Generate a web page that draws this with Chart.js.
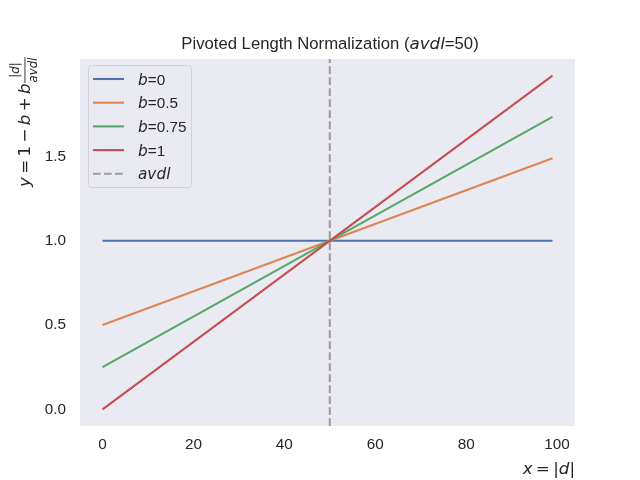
<!DOCTYPE html>
<html>
<head>
<meta charset="utf-8">
<title>Pivoted Length Normalization</title>
<script src="https://cdn.jsdelivr.net/npm/chart.js@4/dist/chart.umd.min.js"></script>
<style>
    body { margin: 0; background: #fff; }
    canvas { display: block; }
</style>
</head>
<body>
<canvas id="chart" width="640" height="480"></canvas>
<script>
// Chart data
const xValues = [0, 99];
const bValues = [0, 0.5, 0.75, 1];
const seriesB0 = [1.0, 1.0];
const seriesB05 = [0.5, 1.49];
const seriesB075 = [0.25, 1.735];
const seriesB1 = [0.0, 1.98];
const avdl = 50;
const xTicks = [0, 20, 40, 60, 80, 100];
const yTicks = [0.0, 0.5, 1.0, 1.5];
const xLimits = [-4.95, 103.95];
const yLimits = [-0.099, 2.079];

const colors = ['#4C72B0', '#DD8452', '#55A868', '#C44E52'];
const avdlColor = 'rgba(128,128,128,0.72)';
const textColor = '#262626';
const axesBg = '#EAEAF2';
const sansFont = "'Liberation Sans', Arial, sans-serif";
const mathFont = "'DejaVu Sans', sans-serif";
const thin = '\u2009';

function fontOf(p, size) {
    if (p.it) return `italic ${size}px ${mathFont}`;
    return `${size}px ${p.math ? mathFont : sansFont}`;
}

function partsWidth(ctx, parts, size) {
    let total = 0;
    parts.forEach(p => {
        ctx.font = fontOf(p, size);
        total += ctx.measureText(p.t).width;
    });
    return total;
}

// Draw a run of text pieces, some in math italic
function drawParts(ctx, parts, x, y, size, align) {
    const total = partsWidth(ctx, parts, size);
    let cx = align === 'center' ? x - total / 2 : align === 'right' ? x - total : x;
    ctx.textAlign = 'left';
    ctx.textBaseline = 'alphabetic';
    parts.forEach(p => {
        ctx.font = fontOf(p, size);
        ctx.fillText(p.t, cx, y);
        cx += ctx.measureText(p.t).width;
    });
    return total;
}

// Axes background + white canvas
const backgroundPlugin = {
    id: 'background',
    beforeDraw(chart) {
        const { ctx, chartArea: a } = chart;
        ctx.save();
        ctx.fillStyle = '#fff';
        ctx.fillRect(0, 0, chart.width, chart.height);
        ctx.fillStyle = axesBg;
        ctx.fillRect(a.left, a.top, a.right - a.left, a.bottom - a.top);
        ctx.restore();
    }
};

// Title, axis labels (with mathtext pieces) and the legend
const annotationsPlugin = {
    id: 'annotations',
    afterDraw(chart) {
        const { ctx, chartArea: a } = chart;
        ctx.save();
        ctx.fillStyle = textColor;

        // Title
        drawParts(ctx, [
            { t: 'Pivoted Length Normalization (' },
            { t: 'avdl', it: true },
            { t: '=50)' }
        ], 330, 49, 16.7, 'center');

        // x label, right aligned
        drawParts(ctx, [
            { t: 'x', it: true },
            { t: thin + '=' + thin + '|', math: true },
            { t: 'd', it: true },
            { t: '|', math: true }
        ], a.right, 474, 16.7, 'right');

        // y label, rotated, top aligned
        ctx.save();
        ctx.translate(29.5, 187);
        ctx.rotate(-Math.PI / 2);
        const mainW = drawParts(ctx, [
            { t: 'y', it: true },
            { t: thin + '=' + thin + '1' + thin + '\u2212' + thin, math: true },
            { t: 'b', it: true },
            { t: thin + '+' + thin, math: true },
            { t: 'b', it: true }
        ], 0, 0, 16.7, 'left');
        const num = [{ t: '|', math: true }, { t: 'd', it: true }, { t: '|', math: true }];
        const den = [{ t: 'avdl', it: true }];
        const fs = 11.7;
        const fw = Math.max(partsWidth(ctx, num, fs), partsWidth(ctx, den, fs)) + 1;
        const fx = mainW + 0.5;
        drawParts(ctx, num, fx + fw / 2, -11, fs, 'center');
        drawParts(ctx, den, fx + fw / 2, 7, fs, 'center');
        ctx.fillRect(fx, -5, fw, 0.9);
        ctx.restore();

        // Legend
        const lx = 88.5, ly = 65.5, lw = 103, lh = 122;
        ctx.beginPath();
        ctx.roundRect(lx, ly, lw, lh, 3);
        ctx.fillStyle = axesBg;
        ctx.fill();
        ctx.strokeStyle = 'rgba(204,204,204,0.8)';
        ctx.lineWidth = 1;
        ctx.stroke();
        chart.data.datasets.forEach((ds, i) => {
            const y = 79 + i * 23.7;
            ctx.beginPath();
            ctx.setLineDash(ds.borderDash || []);
            ctx.strokeStyle = ds.borderColor;
            ctx.lineWidth = ds.borderWidth;
            ctx.moveTo(93, y);
            ctx.lineTo(124, y);
            ctx.stroke();
            ctx.setLineDash([]);
            ctx.fillStyle = textColor;
            drawParts(ctx, ds.legendParts, 138, y + 5.5, 15.3, 'left');
        });
        ctx.restore();
    }
};

function buildDatasets() {
    const series = [seriesB0, seriesB05, seriesB075, seriesB1];
    const datasets = series.map((vals, i) => ({
        label: 'b=' + bValues[i],
        legendParts: [{ t: 'b', it: true }, { t: '=' + bValues[i] }],
        data: xValues.map((x, j) => ({ x: x, y: vals[j] })),
        borderColor: colors[i],
        borderWidth: 2.08,
        pointRadius: 0,
        fill: false,
        order: series.length - i
    }));
    datasets.push({
        label: 'avdl',
        legendParts: [{ t: 'avdl', it: true }],
        data: [{ x: avdl, y: yLimits[0] }, { x: avdl, y: yLimits[1] }],
        borderColor: avdlColor,
        borderWidth: 2.08,
        borderDash: [7.7, 3.3],
        pointRadius: 0,
        fill: false,
        order: 0
    });
    return datasets;
}

const tickFont = { family: sansFont, size: 15.3 };

new Chart(document.getElementById('chart').getContext('2d'), {
    type: 'line',
    data: { datasets: buildDatasets() },
    options: {
        responsive: false,
        animation: false,
        layout: { padding: { left: 0, right: 65, top: 59, bottom: 0 } },
        plugins: {
            legend: { display: false },
            title: { display: false },
            tooltip: { enabled: false }
        },
        scales: {
            x: {
                type: 'linear',
                min: xLimits[0],
                max: xLimits[1],
                grid: { display: false, drawTicks: false },
                border: { display: false },
                ticks: { font: tickFont, color: textColor, padding: 10, maxRotation: 0 },
                afterBuildTicks: scale => { scale.ticks = xTicks.map(v => ({ value: v })); },
                afterFit: scale => { scale.height = 54; }
            },
            y: {
                type: 'linear',
                min: yLimits[0],
                max: yLimits[1],
                grid: { display: false, drawTicks: false },
                border: { display: false },
                ticks: {
                    font: tickFont,
                    color: textColor,
                    padding: 14,
                    callback: v => v.toFixed(1)
                },
                afterBuildTicks: scale => { scale.ticks = yTicks.map(v => ({ value: v })); },
                afterFit: scale => { scale.width = 80; }
            }
        }
    },
    plugins: [backgroundPlugin, annotationsPlugin]
});
</script>
</body>
</html>
